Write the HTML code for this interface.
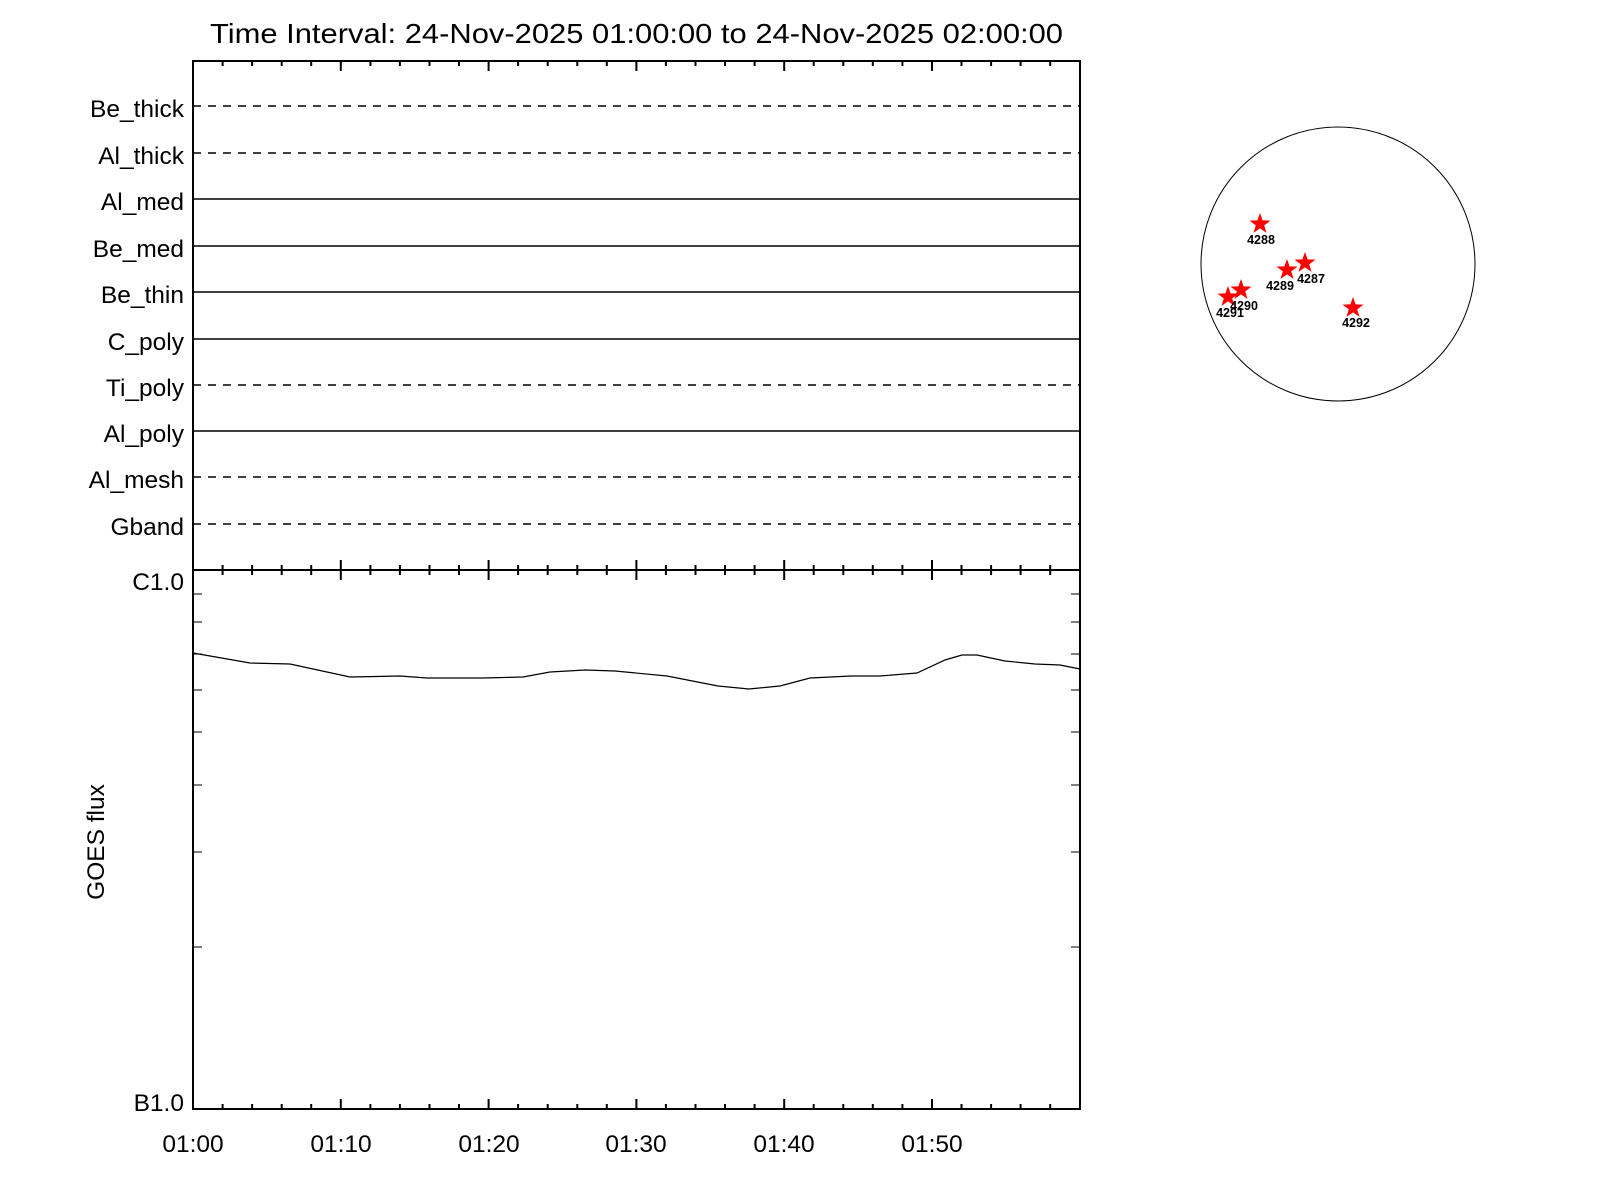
<!DOCTYPE html>
<html><head><meta charset="utf-8"><style>body{margin:0;background:#fff}svg{display:block}</style></head><body>
<svg width="1600" height="1200" xmlns="http://www.w3.org/2000/svg" font-family="Liberation Sans, sans-serif">
<rect width="1600" height="1200" fill="#fff"/>
<text x="210" y="43" font-size="28" textLength="853" lengthAdjust="spacingAndGlyphs">Time Interval: 24-Nov-2025 01:00:00 to 24-Nov-2025 02:00:00</text>
<g stroke="#000" stroke-width="2" fill="none">
<rect x="193" y="61" width="887" height="1048"/>
<line x1="193" y1="570" x2="1080" y2="570"/>
</g>
<g stroke="#000" stroke-width="2">
<path d="M193 61v10M222.6 61v5M252.1 61v5M281.7 61v5M311.2 61v5M340.8 61v10M370.4 61v5M399.9 61v5M429.5 61v5M459 61v5M488.6 61v10M518.1 61v5M547.7 61v5M577.3 61v5M606.8 61v5M636.4 61v10M665.9 61v5M695.5 61v5M725 61v5M754.6 61v5M784.2 61v10M813.7 61v5M843.3 61v5M872.8 61v5M902.4 61v5M932 61v10M961.5 61v5M991.1 61v5M1020.6 61v5M1050.2 61v5"/>
<path d="M193 560v20M222.6 565v10M252.1 565v10M281.7 565v10M311.2 565v10M340.8 560v20M370.4 565v10M399.9 565v10M429.5 565v10M459 565v10M488.6 560v20M518.1 565v10M547.7 565v10M577.3 565v10M606.8 565v10M636.4 560v20M665.9 565v10M695.5 565v10M725 565v10M754.6 565v10M784.2 560v20M813.7 565v10M843.3 565v10M872.8 565v10M902.4 565v10M932 560v20M961.5 565v10M991.1 565v10M1020.6 565v10M1050.2 565v10"/>
<path d="M193 1109v-10M222.6 1109v-5M252.1 1109v-5M281.7 1109v-5M311.2 1109v-5M340.8 1109v-10M370.4 1109v-5M399.9 1109v-5M429.5 1109v-5M459 1109v-5M488.6 1109v-10M518.1 1109v-5M547.7 1109v-5M577.3 1109v-5M606.8 1109v-5M636.4 1109v-10M665.9 1109v-5M695.5 1109v-5M725 1109v-5M754.6 1109v-5M784.2 1109v-10M813.7 1109v-5M843.3 1109v-5M872.8 1109v-5M902.4 1109v-5M932 1109v-10M961.5 1109v-5M991.1 1109v-5M1020.6 1109v-5M1050.2 1109v-5"/>
</g>
<g stroke="#000" stroke-width="1">
<path d="M193 947h9M193 852h9M193 785h9M193 732h9M193 690h9M193 654h9M193 622h9M193 594h9M1080 947h-9M1080 852h-9M1080 785h-9M1080 732h-9M1080 690h-9M1080 654h-9M1080 622h-9M1080 594h-9"/>
</g>
<g stroke="#000" stroke-width="1.6">
<line x1="193" y1="106" x2="1080" y2="106" stroke-dasharray="8,7"/>
<line x1="193" y1="153" x2="1080" y2="153" stroke-dasharray="8,7"/>
<line x1="193" y1="199" x2="1080" y2="199"/>
<line x1="193" y1="246" x2="1080" y2="246"/>
<line x1="193" y1="292" x2="1080" y2="292"/>
<line x1="193" y1="339" x2="1080" y2="339"/>
<line x1="193" y1="385" x2="1080" y2="385" stroke-dasharray="8,7"/>
<line x1="193" y1="431" x2="1080" y2="431"/>
<line x1="193" y1="477" x2="1080" y2="477" stroke-dasharray="8,7"/>
<line x1="193" y1="524" x2="1080" y2="524" stroke-dasharray="8,7"/>
</g>
<g font-size="24.5" text-anchor="end">
<text x="184" y="117">Be_thick</text>
<text x="184" y="164">Al_thick</text>
<text x="184" y="210">Al_med</text>
<text x="184" y="257">Be_med</text>
<text x="184" y="303">Be_thin</text>
<text x="184" y="350">C_poly</text>
<text x="184" y="396">Ti_poly</text>
<text x="184" y="442">Al_poly</text>
<text x="184" y="488">Al_mesh</text>
<text x="184" y="535">Gband</text>
<text x="184" y="590">C1.0</text>
<text x="184" y="1111">B1.0</text>
</g>
<g font-size="24.5" text-anchor="middle">
<text x="193" y="1152">01:00</text>
<text x="341" y="1152">01:10</text>
<text x="489" y="1152">01:20</text>
<text x="636" y="1152">01:30</text>
<text x="784" y="1152">01:40</text>
<text x="932" y="1152">01:50</text>
</g>
<text transform="translate(104,842) rotate(-90)" font-size="24.5" text-anchor="middle">GOES flux</text>
<polyline fill="none" stroke="#000" stroke-width="1.2" points="193,653 250,663 290,664 350,677 400,676 427,678 483,678 523,677 550,672 585,670 615,671 667,676 718,686 749,689 780,686 810,678 851,676 880,676 917,673 945,660 962,655 977,655 1005,661 1035,664 1060,665 1080,669"/>
<circle cx="1338" cy="264" r="137" fill="none" stroke="#000" stroke-width="1"/>
<defs><polygon id="st" fill="#f00" points="0,-11 2.6,-3.6 10.5,-3.4 4.2,1.4 6.5,8.9 0,4.4 -6.5,8.9 -4.2,1.4 -10.5,-3.4 -2.6,-3.6"/></defs>
<use href="#st" x="1260" y="224"/>
<use href="#st" x="1287" y="270"/>
<use href="#st" x="1305" y="263"/>
<use href="#st" x="1241" y="290"/>
<use href="#st" x="1228" y="297"/>
<use href="#st" x="1353" y="308"/>
<g font-size="12.5" font-weight="bold" text-anchor="middle">
<text x="1261" y="244">4288</text>
<text x="1280" y="290">4289</text>
<text x="1311" y="283">4287</text>
<text x="1244" y="310">4290</text>
<text x="1230" y="317">4291</text>
<text x="1356" y="327">4292</text>
</g>
</svg>
</body></html>
